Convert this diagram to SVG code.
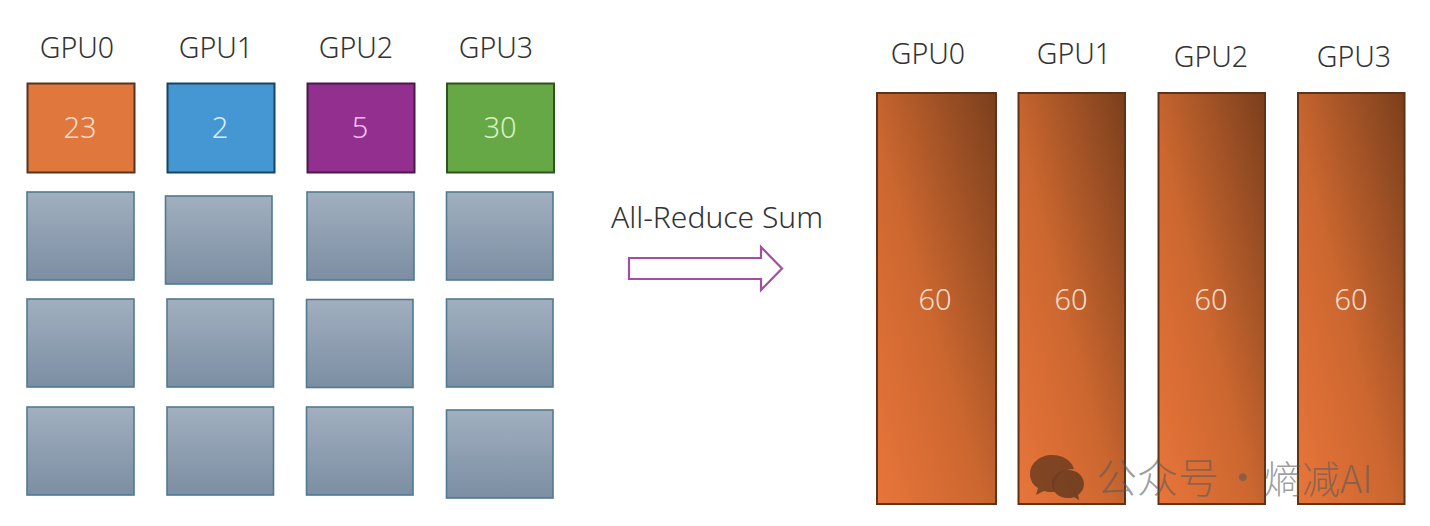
<svg xmlns="http://www.w3.org/2000/svg" width="1430" height="526" viewBox="0 0 1430 526">
<style>
text{font-family:"Noto Sans","Liberation Sans","Noto Sans CJK SC",sans-serif;font-weight:300;text-anchor:middle}
.h{font-size:28.500px;fill:#333}
.v{font-size:29px;fill:#f7dccb}
.g{fill:url(#gray);stroke:#517a90;stroke-width:1.6}
.o{fill:url(#oran);stroke:#5e3317;stroke-width:2}
.wm{font-family:"Noto Sans CJK SC","Liberation Sans",sans-serif;font-size:41px;fill:#5a5a5a;fill-opacity:.6;text-anchor:start}
</style>
<defs>
<linearGradient id="gray" x1="0" y1="0" x2="0" y2="1"><stop offset="0" stop-color="#a1afbf"/><stop offset="1" stop-color="#7c8ea3"/></linearGradient>
<linearGradient id="oran" x1="0" y1="1" x2="1" y2="0"><stop offset="0" stop-color="#e8753a"/><stop offset=".45" stop-color="#cc6730"/><stop offset="1" stop-color="#7a3f1c"/></linearGradient>
</defs>
<g id="left-labels">
<text class="h" x="77" y="58">GPU0</text><text class="h" x="216" y="58">GPU1</text><text class="h" x="356" y="58">GPU2</text><text class="h" x="496" y="58">GPU3</text>
</g>
<g id="n-a0"><rect x="27.500" y="83.500" width="107" height="89" fill="#e0773c" stroke="#57331f" stroke-width="2"/><text class="v" x="80" y="138">23</text></g>
<g id="n-a1"><rect x="167.500" y="83.500" width="107" height="89" fill="#4497d3" stroke="#17445f" stroke-width="2"/><text class="v" x="220" y="138" style="fill:#d9edf9">2</text></g>
<g id="n-a2"><rect x="307.500" y="83.500" width="107" height="89" fill="#922f8f" stroke="#4a1a4a" stroke-width="2"/><text class="v" x="360" y="138" style="fill:#f3c6ee">5</text></g>
<g id="n-a3"><rect x="447" y="83.500" width="107" height="89" fill="#66a845" stroke="#2f5421" stroke-width="2"/><text class="v" x="500" y="138" style="fill:#d8f0c4">30</text></g>
<g id="n-b0"><rect class="g" x="27" y="192" width="107" height="88"/></g>
<g id="n-b1"><rect class="g" x="165.500" y="196" width="106.500" height="88"/></g>
<g id="n-b2"><rect class="g" x="307" y="192" width="107" height="88"/></g>
<g id="n-b3"><rect class="g" x="446.500" y="192" width="106.500" height="88"/></g>
<g id="n-c0"><rect class="g" x="27" y="299" width="107" height="88"/></g>
<g id="n-c1"><rect class="g" x="167" y="299" width="106.500" height="88"/></g>
<g id="n-c2"><rect class="g" x="306.500" y="299.500" width="106.500" height="88"/></g>
<g id="n-c3"><rect class="g" x="446.500" y="299" width="106.500" height="88"/></g>
<g id="n-d0"><rect class="g" x="27" y="407" width="107" height="88"/></g>
<g id="n-d1"><rect class="g" x="167" y="407" width="106.500" height="88"/></g>
<g id="n-d2"><rect class="g" x="306.500" y="407" width="106.500" height="88"/></g>
<g id="n-d3"><rect class="g" x="446.500" y="410" width="106.500" height="88"/></g>
<g id="sum">
<text x="717" y="228" style="font-size:30px;fill:#333">All-Reduce Sum</text>
</g>
<g id="connectors">
<path d="M629 258H761V247L782 268.500L761 290V279H629Z" fill="#fff" stroke="#a04fa3" stroke-width="2.200"/>
</g>
<g id="right-labels">
<text class="h" x="928" y="64">GPU0</text><text class="h" x="1074" y="64">GPU1</text><text class="h" x="1211" y="67">GPU2</text><text class="h" x="1354" y="67">GPU3</text>
</g>
<g id="n-r0"><rect class="o" x="877" y="93" width="119" height="411"/><text class="v" x="935" y="310">60</text></g>
<g id="n-r1"><rect class="o" x="1018.500" y="93" width="106.500" height="411"/><text class="v" x="1071" y="310">60</text></g>
<g id="n-r2"><rect class="o" x="1158.500" y="93" width="106.500" height="411"/><text class="v" x="1211" y="310">60</text></g>
<g id="n-r3"><rect class="o" x="1298" y="93" width="106.500" height="411"/><text class="v" x="1351" y="310">60</text></g>
<g id="watermark">
<path d="M1052 455c-12 0-22 8-22 19 0 6 3 11 8 14l-2 7 8-4c3 1 5 1 8 1 1 0 2 0 3 0 -1-2-1-4-1-6 0-10 9-17 20-17 -2-8-11-14-22-14z" fill="#6e3d20" fill-opacity=".85"/>
<path d="M1068 470c-9 0-16 6-16 14s7 14 16 14c2 0 4 0 6-1l5 3-1-5c4-3 6-7 6-11 0-8-7-14-16-14z" fill="#6e3d20" fill-opacity=".9"/>
<text class="wm" x="1096" y="493">公众号</text><text class="wm" x="1222" y="493">·</text><text class="wm" x="1264" y="493" style="font-size:38px">熵减AI</text>
</g>
</svg>
